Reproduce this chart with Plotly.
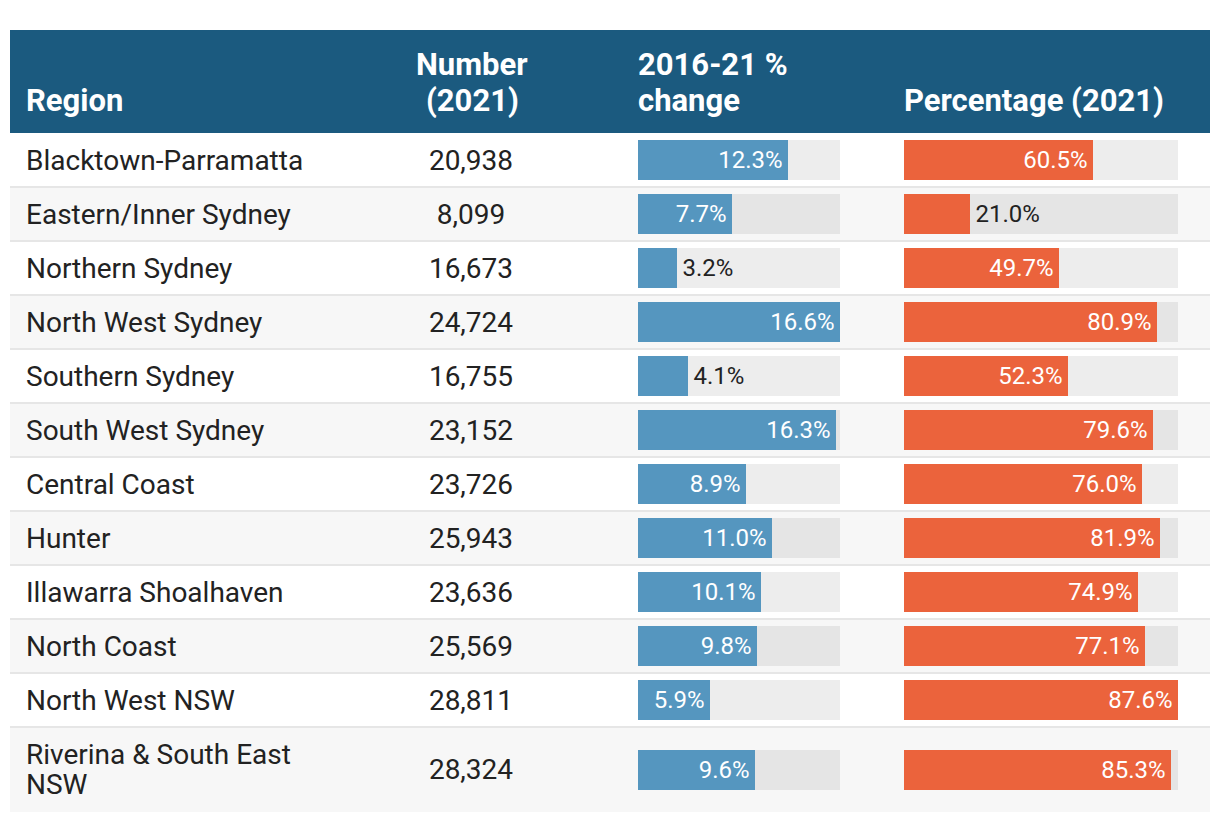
import plotly.graph_objects as go

regions = ["Blacktown-Parramatta", "Eastern/Inner Sydney", "Northern Sydney", "North West Sydney",
           "Southern Sydney", "South West Sydney", "Central Coast", "Hunter", "Illawarra Shoalhaven",
           "North Coast", "North West NSW", "Riverina & South East<br>NSW"]
numbers = [20938, 8099, 16673, 24724, 16755, 23152, 23726, 25943, 23636, 25569, 28811, 28324]
change = [12.3, 7.7, 3.2, 16.6, 4.1, 16.3, 8.9, 11.0, 10.1, 9.8, 5.9, 9.6]
percentage = [60.5, 21.0, 49.7, 80.9, 52.3, 79.6, 76.0, 81.9, 74.9, 77.1, 87.6, 85.3]
headers = ["Region", "Number<br>(2021)", "2016-21 %<br>change", "Percentage (2021)"]

W, H = 1220, 822
OFF = 8  # default page body margin; axis units = page pixels
FONT = "Roboto"
DARK = "#222222"
BLUE = "#5596bf"
ORANGE = "#eb633c"
HEADER_BG = "#1b5a7f"
TRACK = "rgba(0,0,0,0.07)"

LABEL_SIZE = 28
NUM_SIZE = 28
BAR_FONT = 24
HDR_SIZE = 31
LABEL_LH = 30
HDR_LH = 36
TXT_DY = 2.5
BODY_WEIGHT = 400

# row geometry (pixel units on the y axis)
tbl_left, tbl_right = 10, 1210
head_top, head_bot = 30, 133
row_h = [85 if "<br>" in r else 54 for r in regions]
tops, centers = [], []
t = head_bot
for h in row_h:
    tops.append(t)
    centers.append(t + h / 2)
    t += h

blue_dom = (638, 840)
orange_dom = (904, 1178)


def positions(vals, vmax, span):
    pos = []
    for v in vals:
        px = v / vmax * (span[1] - span[0])
        need = len(f"{v:.1f}%") * 0.55 * BAR_FONT + 12
        pos.append("inside" if px >= need else "outside")
    return pos


def bar_texts(vals, pos):
    out = []
    for v, p in zip(vals, pos):
        s = f"{v:.1f}%"
        out.append(s + "\u200a" if p == "inside" else "\u200a" + s)
    return out


fig = go.Figure()

shapes = [dict(type="rect", xref="x", yref="y", x0=tbl_left, x1=tbl_right, y0=head_top, y1=head_bot,
               fillcolor=HEADER_BG, line_width=0, layer="below")]
for i, (tp, h) in enumerate(zip(tops, row_h)):
    if i % 2 == 1:
        shapes.append(dict(type="rect", xref="x", yref="y", x0=tbl_left, x1=tbl_right, y0=tp, y1=tp + h,
                           fillcolor="#f7f7f7", line_width=0, layer="below"))
    if i > 0:
        shapes.append(dict(type="line", xref="x", yref="y", x0=tbl_left, x1=tbl_right, y0=tp, y1=tp,
                           line=dict(color="#e6e6e6", width=2), layer="below"))

# region labels: split wrapped labels into lines with tighter line spacing
lx, ly, lt = [], [], []
for lab, c in zip(regions, centers):
    parts = lab.split("<br>")
    n = len(parts)
    for k, p in enumerate(parts):
        lx.append(26)
        ly.append(c + TXT_DY + (k - (n - 1) / 2) * LABEL_LH)
        lt.append(p)
fig.add_trace(go.Scatter(x=lx, y=ly, text=lt, mode="text", textposition="middle right",
                         textfont=dict(family=FONT, size=LABEL_SIZE, color=DARK, weight=BODY_WEIGHT),
                         xaxis="x", yaxis="y", hoverinfo="skip", showlegend=False))
fig.add_trace(go.Scatter(x=[471] * len(numbers), y=[c + TXT_DY for c in centers],
                         text=[f"{n:,}" for n in numbers], mode="text", textposition="middle center",
                         textfont=dict(family=FONT, size=NUM_SIZE, color=DARK, weight=BODY_WEIGHT),
                         xaxis="x", yaxis="y", hoverinfo="skip", showlegend=False))

cmax = max(change)
pmax = max(percentage)
for vals, vmax, color, xa, span in [(change, cmax, BLUE, "x2", blue_dom),
                                    (percentage, pmax, ORANGE, "x3", orange_dom)]:
    fig.add_trace(go.Bar(x=[vmax] * len(vals), y=centers, orientation="h", width=40,
                         marker=dict(color=TRACK, line_width=0), xaxis=xa, yaxis="y",
                         hoverinfo="skip", showlegend=False))
    pos = positions(vals, vmax, span)
    fig.add_trace(go.Bar(x=vals, y=centers, orientation="h", width=40,
                         marker=dict(color=color, line_width=0), xaxis=xa, yaxis="y",
                         text=bar_texts(vals, pos), textposition=pos,
                         insidetextanchor="end", constraintext="none", cliponaxis=False,
                         insidetextfont=dict(family=FONT, size=BAR_FONT, color="white", weight=BODY_WEIGHT),
                         outsidetextfont=dict(family=FONT, size=BAR_FONT, color=DARK, weight=BODY_WEIGHT),
                         showlegend=False))

# header annotations, one per line
hdr_font = dict(family=FONT, size=HDR_SIZE, color="white", weight="bold")
hdr_specs = [(24, "left"), (472, "center"), (636, "left"), (902, "left")]
annotations = []
bottom_line_y = 100
for text, (hx, anchor) in zip(headers, hdr_specs):
    parts = text.split("<br>")
    n = len(parts)
    for k, p in enumerate(parts):
        annotations.append(dict(x=hx, y=bottom_line_y - (n - 1 - k) * HDR_LH, text=p, xanchor=anchor,
                                yanchor="middle", xref="x", yref="y", showarrow=False, font=hdr_font))

fig.update_layout(
    width=W - OFF, height=H - OFF, margin=dict(l=0, r=0, t=0, b=0),
    paper_bgcolor="white", plot_bgcolor="rgba(0,0,0,0)",
    barmode="overlay", bargap=0,
    shapes=shapes, annotations=annotations,
    xaxis=dict(domain=[0, 1], range=[OFF, W], visible=False, fixedrange=True),
    xaxis2=dict(domain=[(blue_dom[0] - OFF) / (W - OFF), (blue_dom[1] - OFF) / (W - OFF)], range=[0, cmax],
                visible=False, anchor="y", fixedrange=True),
    xaxis3=dict(domain=[(orange_dom[0] - OFF) / (W - OFF), (orange_dom[1] - OFF) / (W - OFF)], range=[0, pmax],
                visible=False, anchor="y", fixedrange=True),
    yaxis=dict(domain=[0, 1], range=[H, OFF], visible=False, fixedrange=True),
)

fig.write_html("out.html")
